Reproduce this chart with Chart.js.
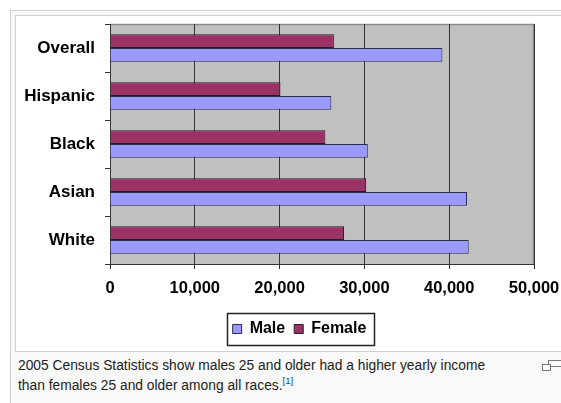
<!DOCTYPE html>
<html>
<head>
<meta charset="utf-8">
<script src="https://cdn.jsdelivr.net/npm/chart.js@4"></script>
<style>
  html, body { margin: 0; padding: 0; background: #fff; width: 561px; height: 403px; overflow: hidden; }
  .thumbinner { position: absolute; left: 10px; top: 10px; width: 620px; height: 420px;
                border: 1px solid #cfcfcf; background: #f9f9f9; }
  .thumbimage { position: absolute; left: 15px; top: 15px; width: 600px; height: 335px;
                border: 1px solid #cfcfcf; background: #fff; }
  #chart { position: absolute; left: 16px; top: 16px; }
  .caption { position: absolute; left: 18px; top: 356px; width: 478px;
             font: 13.8px "Liberation Sans", Arial, sans-serif; line-height: 20px; color: #222; }
  .caption sup { font-size: 9.5px; color: #0645ad; line-height: 0; vertical-align: 6px; }
  .magnify { position: absolute; left: 542px; top: 360px; width: 20px; height: 12px; }
  .magnify .a { position: absolute; left: 0; top: 4px; width: 7px; height: 5px; border: 1px solid #777; background: #fff; }
  .magnify .b { position: absolute; left: 6px; top: 0; width: 14px; height: 5px; border: 1px solid #777; border-right: none; }
</style>
</head>
<body>
<div class="thumbinner"></div>
<div class="thumbimage"></div>
<canvas id="chart" width="567" height="335"></canvas>
<div class="caption">2005 Census Statistics show males 25 and older had a higher yearly income than females 25 and older among all races.<sup>[1]</sup></div>
<div class="magnify"><div class="b"></div><div class="a"></div></div>
<script>
// Median yearly income, people 25 and older, 2005 (US dollars)
const categories = ["Overall", "Hispanic", "Black", "Asian", "White"];
const maleIncome = [39200, 26100, 30400, 42100, 42300];
const femaleIncome = [26400, 20100, 25400, 30200, 27600];
const xTicks = [0, 10000, 20000, 30000, 40000, 50000];

// Grey plot background with a thin frame on top and right
const plotBackground = {
  id: "plotBackground",
  beforeDraw(chart) {
    const { ctx, chartArea: a } = chart;
    ctx.save();
    ctx.fillStyle = "#c0c0c0";
    ctx.fillRect(a.left, a.top, a.right - a.left, a.bottom - a.top);
    ctx.strokeStyle = "#8a8a8a";
    ctx.lineWidth = 1.5;
    ctx.beginPath();
    ctx.moveTo(a.left, a.top + 0.5);
    ctx.lineTo(a.right - 0.5, a.top + 0.5);
    ctx.lineTo(a.right - 0.5, a.bottom);
    ctx.stroke();
    ctx.restore();
  }
};

// Box drawn around the legend items
const legendFrame = {
  id: "legendFrame",
  afterDraw(chart) {
    const items = chart.legend && chart.legend.legendHitBoxes;
    if (!items || !items.length) return;
    let l = Infinity, r = -Infinity, t = Infinity, b = -Infinity;
    items.forEach(h => {
      l = Math.min(l, h.left); r = Math.max(r, h.left + h.width);
      t = Math.min(t, h.top); b = Math.max(b, h.top + h.height);
    });
    const { ctx } = chart;
    ctx.save();
    ctx.strokeStyle = "#222";
    ctx.lineWidth = 1.5;
    ctx.strokeRect(Math.round(l - 6) + 0.5, Math.round(t - 8) + 0.5, Math.round(r - l + 13), Math.round(b - t + 16));
    ctx.restore();
  }
};

new Chart(document.getElementById("chart"), {
  type: "bar",
  data: {
    labels: categories,
    datasets: [
      { label: "Female", data: femaleIncome, backgroundColor: "#993366", borderColor: "#2a1a2a", borderWidth: 1 },
      { label: "Male", data: maleIncome, backgroundColor: "#9999ff", borderColor: "#2a2a4a", borderWidth: 1 }
    ]
  },
  options: {
    indexAxis: "y",
    responsive: false,
    animation: false,
    devicePixelRatio: 1,
    categoryPercentage: 0.57,
    barPercentage: 1,
    layout: { padding: { top: 8, right: 0, left: 0, bottom: 4 } },
    scales: {
      y: {
        type: "category",
        afterFit(s) { s.width = 94; s.paddingTop = 0; s.paddingBottom = 0; },
        grid: { offset: true, drawOnChartArea: false, tickLength: 5, color: "#333" },
        border: { display: true, color: "#333", width: 1 },
        ticks: { color: "#000", padding: 10, font: { family: "'Liberation Sans', Arial, sans-serif", size: 17, weight: "bold" } }
      },
      x: {
        min: 0,
        max: 50000,
        afterBuildTicks(s) { s.ticks = xTicks.map(v => ({ value: v })); },
        afterFit(s) { s.height = 48; s.paddingLeft = 0; s.paddingRight = 49; },
        grid: { color: "#333", tickLength: 5, lineWidth: 1 },
        border: { display: true, color: "#333", width: 1 },
        ticks: {
          color: "#000",
          padding: 10,
          maxRotation: 0,
          callback: v => Number(v).toLocaleString("en-US"),
          font: { family: "'Liberation Sans', Arial, sans-serif", size: 16.5, weight: "bold" }
        }
      }
    },
    plugins: {
      legend: {
        position: "bottom",
        reverse: true,
        labels: {
          color: "#000",
          boxWidth: 9,
          boxHeight: 9,
          padding: 9,
          font: { family: "'Liberation Sans', Arial, sans-serif", size: 16, weight: "bold" }
        }
      },
      tooltip: { enabled: false }
    }
  },
  plugins: [plotBackground, legendFrame]
});
</script>
</body>
</html>
